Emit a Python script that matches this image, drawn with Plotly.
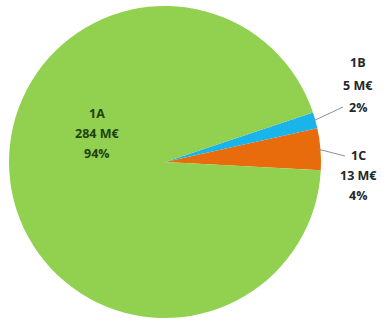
import math
import plotly.graph_objects as go

# Data
labels = ["1C", "1B", "1A"]
values = [13, 5, 284]          # M€
percents = ["4%", "2%", "94%"]
colors = ["#E96C0C", "#19B4EA", "#92D050"]

W, H = 387, 324
# pie geometry in pixels
dom_x = (7, 323)
dom_y = (6, 318)
cx = (dom_x[0] + dom_x[1]) / 2
cy = (dom_y[0] + dom_y[1]) / 2
R = min(dom_x[1] - dom_x[0], dom_y[1] - dom_y[0]) / 2

total = sum(values)
start = -3.0  # math angle (deg) where the first slice (1C) begins
rotation = 90 - start - values[0] / total * 360

fig = go.Figure(go.Pie(
    labels=labels, values=values, sort=False, direction="counterclockwise",
    rotation=rotation, marker=dict(colors=colors, line=dict(width=0)),
    textinfo="none", hoverinfo="label+value+percent", showlegend=False,
    domain=dict(x=[dom_x[0] / W, dom_x[1] / W], y=[1 - dom_y[1] / H, 1 - dom_y[0] / H]),
))

def px(x, y):
    return x / W, 1 - y / H

annotations = []
shapes = []
font_family = "Open Sans"

# label blocks: (center x, first line y, line spacing, color)
label_pos = {
    "1A": (97, 113, 20, "#22410F"),
    "1B": (358, 63, 22, "#262626"),
    "1C": (358, 155, 20, "#262626"),
}
anchor_pts = {"1B": (343, 107), "1C": (345, 156)}

cum = 0
for lab, v, pc in zip(labels, values, percents):
    mid = start + (cum + v / 2) / total * 360
    cum += v
    lx, ly, sp, col = label_pos[lab]
    lines = [lab, f"{v} M€", pc]
    for i, t in enumerate(lines):
        ax_, ay_ = px(lx, ly + i * sp)
        annotations.append(dict(x=ax_, y=ay_, xref="paper", yref="paper", text=f"<b>{t}</b>",
                                showarrow=False, xanchor="center", yanchor="middle",
                                font=dict(family=font_family, size=12.5, color=col)))
    if lab in anchor_pts:
        ex = cx + (R - 2) * math.cos(math.radians(mid))
        ey = cy - (R - 2) * math.sin(math.radians(mid))
        x0, y0 = px(ex, ey)
        x1, y1 = px(*anchor_pts[lab])
        shapes.append(dict(type="line", xref="paper", yref="paper", x0=x0, y0=y0, x1=x1, y1=y1,
                           line=dict(color="#8C8CA6", width=1)))

fig.update_layout(
    width=W, height=H, margin=dict(l=0, r=0, t=0, b=0),
    paper_bgcolor="white", plot_bgcolor="white",
    annotations=annotations, shapes=shapes,
)
fig.write_html("out.html")
